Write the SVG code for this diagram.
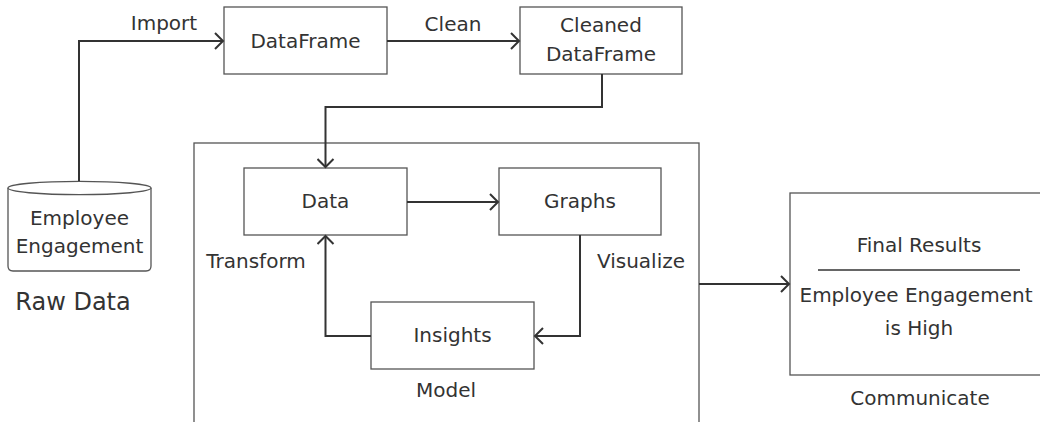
<svg xmlns="http://www.w3.org/2000/svg" width="1040" height="422" viewBox="0 0 1040 422">
<defs>
<marker id="arr" markerUnits="userSpaceOnUse" markerWidth="14" markerHeight="18" refX="10" refY="9" orient="auto">
<path d="M2,1 L10,9 L2,17" fill="none" stroke="#333" stroke-width="2"/>
</marker>
<style>
.box{fill:#fff;stroke:#555;stroke-width:1.3}
.t{font-family:"DejaVu Sans",sans-serif;font-size:20px;fill:#333;text-anchor:middle}
.c{fill:none;stroke:#333;stroke-width:2}
</style>
</defs>
<rect width="1040" height="422" fill="#fff"/>
<g id="container">
<rect class="box" x="194" y="143" width="505" height="300"/>
</g>
<g id="rawdata">
<path class="box" d="M8,188 A71.5,6.7 0 0 1 151,188 L151,266 Q151,271 146,271 L13,271 Q8,271 8,266 Z"/>
<path class="box" d="M8,188 A71.5,6.7 0 0 0 151,188" fill="none"/>
<text class="t" x="79.5" y="225">Employee</text>
<text class="t" x="79.5" y="253">Engagement</text>
<text class="t" x="73" y="310" style="font-size:24px">Raw Data</text>
</g>
<g id="dataframe">
<rect class="box" x="224" y="7" width="163" height="67"/>
<text class="t" x="305.5" y="48">DataFrame</text>
</g>
<g id="cleaned">
<rect class="box" x="520" y="7" width="162" height="67"/>
<text class="t" x="601" y="32">Cleaned</text>
<text class="t" x="601" y="61">DataFrame</text>
</g>
<g id="data">
<rect class="box" x="244" y="168" width="163" height="67"/>
<text class="t" x="325.5" y="208">Data</text>
</g>
<g id="graphs">
<rect class="box" x="499" y="168" width="162" height="67"/>
<text class="t" x="580" y="208">Graphs</text>
</g>
<g id="insights">
<rect class="box" x="371" y="302" width="163" height="67"/>
<text class="t" x="452.5" y="342">Insights</text>
</g>
<g id="final">
<rect class="box" x="790" y="193" width="260" height="182"/>
<text class="t" x="919" y="252">Final Results</text>
<line x1="818" y1="270" x2="1020" y2="270" stroke="#333" stroke-width="1.5"/>
<text class="t" x="916" y="302">Employee Engagement</text>
<text class="t" x="919" y="335">is High</text>
<text class="t" x="920" y="405">Communicate</text>
</g>
<g id="connectors">
<path class="c" d="M79,181 L79,41 L223,41" marker-end="url(#arr)"/>
<path class="c" d="M387,41 L519,41" marker-end="url(#arr)"/>
<path class="c" d="M602,74 L602,107 L325.5,107 L325.5,167" marker-end="url(#arr)"/>
<path class="c" d="M407,202 L498,202" marker-end="url(#arr)"/>
<path class="c" d="M580,235 L580,336 L535,336" marker-end="url(#arr)"/>
<path class="c" d="M371,336 L325.5,336 L325.5,236" marker-end="url(#arr)"/>
<path class="c" d="M699,284 L789,284" marker-end="url(#arr)"/>
</g>
<g id="labels">
<text class="t" x="164" y="30">Import</text>
<text class="t" x="453" y="31">Clean</text>
<text class="t" x="256" y="268">Transform</text>
<text class="t" x="641" y="268">Visualize</text>
<text class="t" x="446" y="397">Model</text>
</g>
</svg>
